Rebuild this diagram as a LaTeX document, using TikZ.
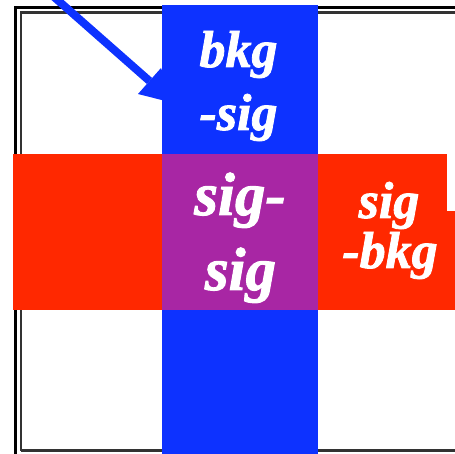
\documentclass[tikz,border=0pt]{standalone}
\usepackage{fontspec}
\setmainfont{Liberation Serif}
\newfontfamily\tbi[FakeBold=1.6]{Liberation Serif Bold Italic}
\definecolor{bandblue}{RGB}{13,50,255}
\definecolor{bandred}{RGB}{255,40,0}
\definecolor{bandpurple}{RGB}{168,38,164}
\tikzset{
  lbl/.style={text=white, inner sep=0pt, anchor=base},
  lblmid/.style={lbl, font=\tbi\fontsize{52}{60}\selectfont},
  lblbig/.style={lbl, font=\tbi\fontsize{61}{72}\selectfont},
  outerframe/.style={draw=black, line width=3.4pt},
  innerframe/.style={draw=black!80, line width=2.6pt},
}
\begin{document}
\begin{tikzpicture}[x=1pt,y=-1pt]
\useasboundingbox (0,0) rectangle (455,454);
\clip (0,0) rectangle (455,454);
\fill[white] (0,0) rectangle (455,454);
% frame (cropped on the right and bottom)
\draw[outerframe] (15.5,470) -- (15.5,7.7) -- (470,7.7);
\draw[innerframe] (21,450.6) -- (21,12.6) -- (470,12.6);
\draw[innerframe] (21,450.6) -- (470,450.6);
% arrow
\coordinate (astart) at (50,-6.6);
\coordinate (abase) at (149.5,81);
\coordinate (acorner1) at (138,94);
\coordinate (acorner2) at (161,68);
\coordinate (atip) at (175,103.4);
\draw[bandblue, line width=8pt] (astart) -- (abase);
\fill[bandblue] (acorner1) -- (acorner2) -- (atip) -- cycle;
% bands
\fill[bandred] (13,154) rectangle (447,310);
\fill[bandred] (447,211) rectangle (455,310);
\fill[bandblue] (162,5) rectangle (318,454);
\fill[bandpurple] (162,154) rectangle (318,310);
% texts
\node[lblmid] (bA) at (238.5,67) {bkg};
\node[lblmid] (bB) at (238.5,130) {-sig};
\node[lblbig] (pA) at (240,215) {sig-};
\node[lblbig] (pB) at (240.5,290) {sig};
\node[lblmid] (rA) at (389,218) {sig};
\node[lblmid] (rB) at (390,268) {-bkg};
\end{tikzpicture}
\end{document}
